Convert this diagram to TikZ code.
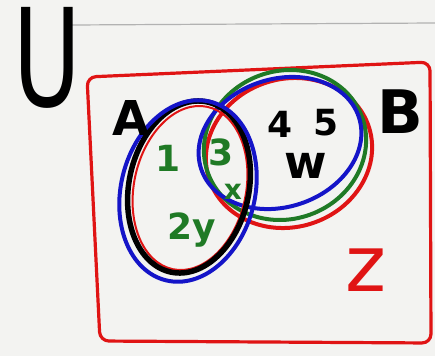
\documentclass[tikz,border=0pt]{standalone}
\usepackage{fontspec}
\setmainfont{DejaVu Sans}
\definecolor{VennRed}{HTML}{E01414}
\definecolor{VennGreen}{HTML}{1F7A25}
\definecolor{VennBlue}{HTML}{1414C8}
\definecolor{BoardGray}{HTML}{F3F3F1}

\begin{document}
\begin{tikzpicture}[x=1pt,y=-1pt,line cap=round,line join=round,
    setring/.style={line width=4pt},
    mark text/.style={inner sep=0pt,font=\bfseries\fontsize{36}{36}\selectfont}]
  \fill[BoardGray] (0,0) rectangle (435,356);
  \useasboundingbox (0,0) rectangle (435,356);
  \draw[black!30,line width=1.2pt] (72,25) -- (435,23);
  % universal set
  \node[inner sep=0pt,xscale=0.68,font=\fontsize{136}{136}\selectfont] (univ) at (47,58) {U};
  \draw[VennRed,line width=3.2pt,rounded corners=9pt]
    (87,77) -- (430,62) -- (431,343) -- (100,341) -- cycle;
  % set B
  \draw[setring,VennRed,rotate around={18:(289,153)}] (289,153) ellipse [x radius=84, y radius=74];
  \draw[setring,VennGreen,rotate around={20:(285,145)}] (285,145) ellipse [x radius=82, y radius=74];
  \draw[setring,VennBlue,rotate around={18:(280,143)}] (280,143) ellipse [x radius=83, y radius=64];
  % set A
  \draw[line width=2pt,VennRed,rotate around={-12:(190,188)}] (190,188) ellipse [x radius=56, y radius=83];
  \draw[line width=5.5pt,black,rotate around={-12:(189,187)}] (189,187) ellipse [x radius=60, y radius=87];
  \draw[setring,VennBlue,rotate around={-14:(188,191)}] (188,191) ellipse [x radius=67, y radius=92];
  % labels
  \node[mark text,font=\bfseries\fontsize{48}{48}\selectfont] (labA) at (131,118) {A};
  \node[mark text,font=\bfseries\fontsize{60}{60}\selectfont] (labB) at (400,112) {B};
  \node[mark text,text=VennGreen] (one) at (168,158) {1};
  \node[mark text,text=VennGreen] (three) at (221,152) {3};
  \node[mark text,text=VennGreen,font=\bfseries\fontsize{28}{28}\selectfont] (ex) at (233,192) {x};
  \node[mark text,text=VennGreen] (twoy) at (192,230) {2y};
  \node[mark text] (four) at (280,124) {4};
  \node[mark text] (five) at (326,123) {5};
  \node[mark text,font=\bfseries\fontsize{46}{46}\selectfont] (omega) at (306,166) {w};
  \node[mark text,text=VennRed,font=\fontsize{78}{78}\selectfont] (zed) at (366,270) {z};
\end{tikzpicture}
\end{document}
